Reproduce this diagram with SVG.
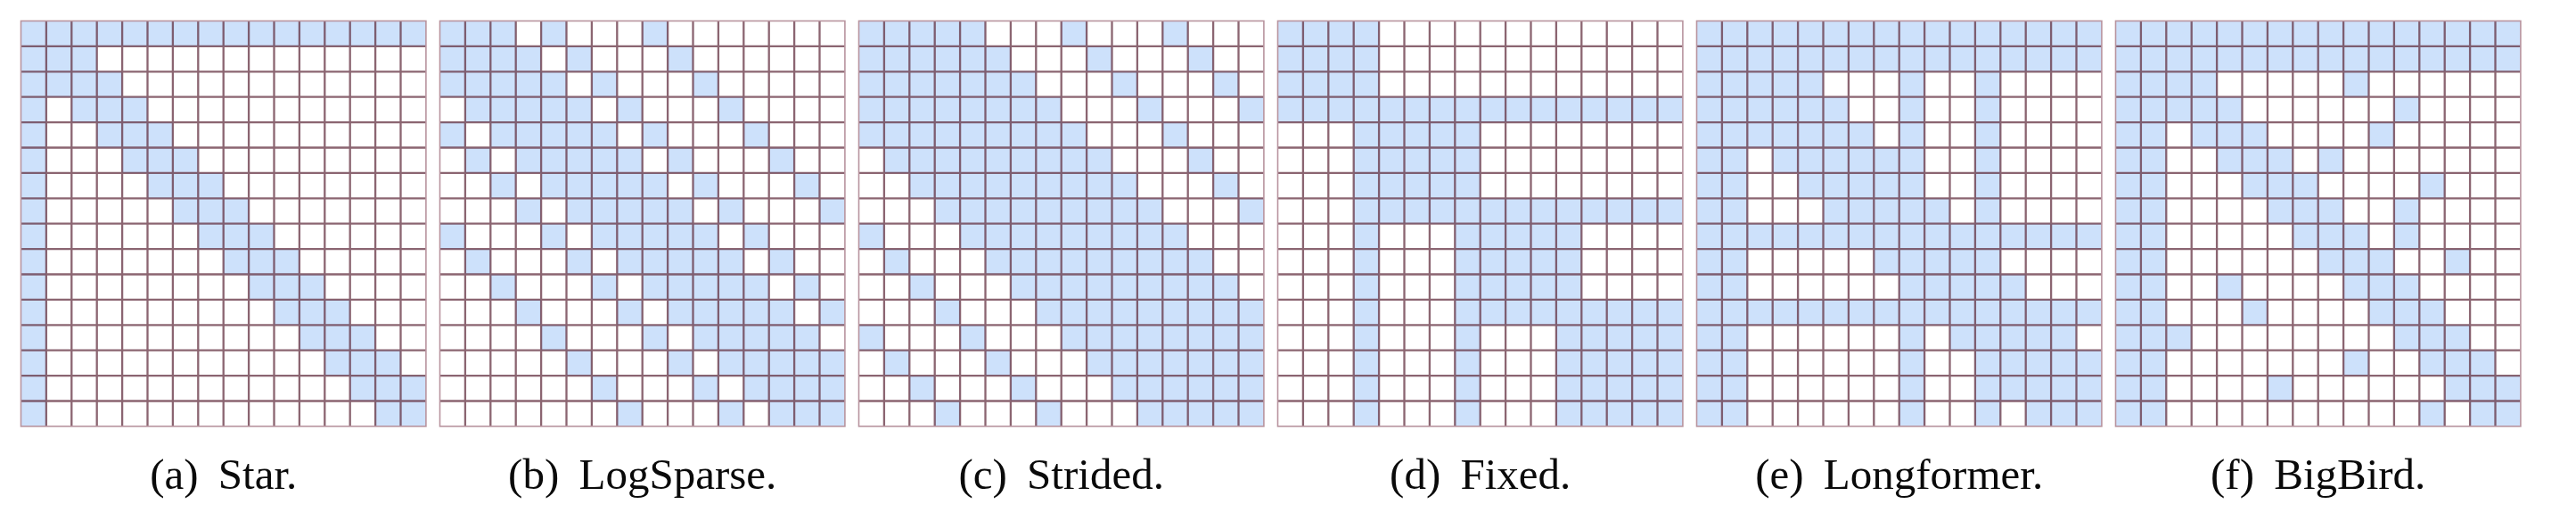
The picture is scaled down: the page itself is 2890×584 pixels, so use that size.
<svg xmlns="http://www.w3.org/2000/svg" xmlns:xlink="http://www.w3.org/1999/xlink" width="2890" height="584" viewBox="0 0 2890 584">
<style>
.f rect{fill:#cde1fb;stroke:none}
.gl{fill:none;stroke:#5e2a3a;stroke-opacity:0.72;stroke-width:2.3}
.gb{fill:none;stroke:#b8949f;stroke-width:1.6}
.lab{font-family:"Liberation Serif","Times New Roman",serif;font-size:49px;fill:#0a0a0a;text-anchor:middle}
</style>
<defs>
<g id="grid">
<path class="gl" d="M28.4 0V454.4M56.8 0V454.4M85.2 0V454.4M113.6 0V454.4M142 0V454.4M170.4 0V454.4M198.8 0V454.4M227.2 0V454.4M255.6 0V454.4M284 0V454.4M312.4 0V454.4M340.8 0V454.4M369.2 0V454.4M397.6 0V454.4M426 0V454.4M0 28.4H454.4M0 56.8H454.4M0 85.2H454.4M0 113.6H454.4M0 142H454.4M0 170.4H454.4M0 198.8H454.4M0 227.2H454.4M0 255.6H454.4M0 284H454.4M0 312.4H454.4M0 340.8H454.4M0 369.2H454.4M0 397.6H454.4M0 426H454.4"/>
<rect class="gb" x="0" y="0" width="454.4" height="454.4"/>
</g>
</defs>
<rect width="2890" height="584" fill="#fff"/>

<g id="panel-a">
<g class="f" transform="translate(23.5 23.5) scale(28.4)">
<rect x="0" y="0" width="16" height="1"/><rect x="0" y="0" width="1" height="16"/>
<rect x="0" y="1" width="3" height="1"/><rect x="1" y="2" width="3" height="1"/><rect x="2" y="3" width="3" height="1"/><rect x="3" y="4" width="3" height="1"/><rect x="4" y="5" width="3" height="1"/><rect x="5" y="6" width="3" height="1"/><rect x="6" y="7" width="3" height="1"/><rect x="7" y="8" width="3" height="1"/><rect x="8" y="9" width="3" height="1"/><rect x="9" y="10" width="3" height="1"/><rect x="10" y="11" width="3" height="1"/><rect x="11" y="12" width="3" height="1"/><rect x="12" y="13" width="3" height="1"/><rect x="13" y="14" width="3" height="1"/><rect x="14" y="15" width="2" height="1"/>
</g>
<use href="#grid" x="23.5" y="23.5"/>
<text class="lab" x="250.7" y="548">(a) <tspan dx="10">Star.</tspan></text>
</g>

<g id="panel-b">
<g class="f" transform="translate(493.5 23.5) scale(28.4)">
<rect x="0" y="0" width="3" height="1"/><rect x="4" y="0" width="1" height="1"/><rect x="8" y="0" width="1" height="1"/>
<rect x="0" y="1" width="4" height="1"/><rect x="5" y="1" width="1" height="1"/><rect x="9" y="1" width="1" height="1"/>
<rect x="0" y="2" width="5" height="1"/><rect x="6" y="2" width="1" height="1"/><rect x="10" y="2" width="1" height="1"/>
<rect x="1" y="3" width="5" height="1"/><rect x="7" y="3" width="1" height="1"/><rect x="11" y="3" width="1" height="1"/>
<rect x="0" y="4" width="1" height="1"/><rect x="2" y="4" width="5" height="1"/><rect x="8" y="4" width="1" height="1"/><rect x="12" y="4" width="1" height="1"/>
<rect x="1" y="5" width="1" height="1"/><rect x="3" y="5" width="5" height="1"/><rect x="9" y="5" width="1" height="1"/><rect x="13" y="5" width="1" height="1"/>
<rect x="2" y="6" width="1" height="1"/><rect x="4" y="6" width="5" height="1"/><rect x="10" y="6" width="1" height="1"/><rect x="14" y="6" width="1" height="1"/>
<rect x="3" y="7" width="1" height="1"/><rect x="5" y="7" width="5" height="1"/><rect x="11" y="7" width="1" height="1"/><rect x="15" y="7" width="1" height="1"/>
<rect x="0" y="8" width="1" height="1"/><rect x="4" y="8" width="1" height="1"/><rect x="6" y="8" width="5" height="1"/><rect x="12" y="8" width="1" height="1"/>
<rect x="1" y="9" width="1" height="1"/><rect x="5" y="9" width="1" height="1"/><rect x="7" y="9" width="5" height="1"/><rect x="13" y="9" width="1" height="1"/>
<rect x="2" y="10" width="1" height="1"/><rect x="6" y="10" width="1" height="1"/><rect x="8" y="10" width="5" height="1"/><rect x="14" y="10" width="1" height="1"/>
<rect x="3" y="11" width="1" height="1"/><rect x="7" y="11" width="1" height="1"/><rect x="9" y="11" width="5" height="1"/><rect x="15" y="11" width="1" height="1"/>
<rect x="4" y="12" width="1" height="1"/><rect x="8" y="12" width="1" height="1"/><rect x="10" y="12" width="5" height="1"/>
<rect x="5" y="13" width="1" height="1"/><rect x="9" y="13" width="1" height="1"/><rect x="11" y="13" width="5" height="1"/>
<rect x="6" y="14" width="1" height="1"/><rect x="10" y="14" width="1" height="1"/><rect x="12" y="14" width="4" height="1"/>
<rect x="7" y="15" width="1" height="1"/><rect x="11" y="15" width="1" height="1"/><rect x="13" y="15" width="3" height="1"/>
</g>
<use href="#grid" x="493.5" y="23.5"/>
<text class="lab" x="720.7" y="548">(b) <tspan dx="10">LogSparse.</tspan></text>
</g>

<g id="panel-c">
<g class="f" transform="translate(963.5 23.5) scale(28.4)">
<rect x="0" y="0" width="5" height="1"/><rect x="8" y="0" width="1" height="1"/><rect x="12" y="0" width="1" height="1"/>
<rect x="0" y="1" width="6" height="1"/><rect x="9" y="1" width="1" height="1"/><rect x="13" y="1" width="1" height="1"/>
<rect x="0" y="2" width="7" height="1"/><rect x="10" y="2" width="1" height="1"/><rect x="14" y="2" width="1" height="1"/>
<rect x="0" y="3" width="8" height="1"/><rect x="11" y="3" width="1" height="1"/><rect x="15" y="3" width="1" height="1"/>
<rect x="0" y="4" width="9" height="1"/><rect x="12" y="4" width="1" height="1"/>
<rect x="1" y="5" width="9" height="1"/><rect x="13" y="5" width="1" height="1"/>
<rect x="2" y="6" width="9" height="1"/><rect x="14" y="6" width="1" height="1"/>
<rect x="3" y="7" width="9" height="1"/><rect x="15" y="7" width="1" height="1"/>
<rect x="0" y="8" width="1" height="1"/><rect x="4" y="8" width="9" height="1"/>
<rect x="1" y="9" width="1" height="1"/><rect x="5" y="9" width="9" height="1"/>
<rect x="2" y="10" width="1" height="1"/><rect x="6" y="10" width="9" height="1"/>
<rect x="3" y="11" width="1" height="1"/><rect x="7" y="11" width="9" height="1"/>
<rect x="0" y="12" width="1" height="1"/><rect x="4" y="12" width="1" height="1"/><rect x="8" y="12" width="8" height="1"/>
<rect x="1" y="13" width="1" height="1"/><rect x="5" y="13" width="1" height="1"/><rect x="9" y="13" width="7" height="1"/>
<rect x="2" y="14" width="1" height="1"/><rect x="6" y="14" width="1" height="1"/><rect x="10" y="14" width="6" height="1"/>
<rect x="3" y="15" width="1" height="1"/><rect x="7" y="15" width="1" height="1"/><rect x="11" y="15" width="5" height="1"/>
</g>
<use href="#grid" x="963.5" y="23.5"/>
<text class="lab" x="1190.7" y="548">(c) <tspan dx="10">Strided.</tspan></text>
</g>

<g id="panel-d">
<g class="f" transform="translate(1433.5 23.5) scale(28.4)">
<rect x="0" y="0" width="4" height="4"/><rect x="0" y="3" width="16" height="1"/>
<rect x="4" y="4" width="4" height="4"/><rect x="3" y="7" width="13" height="1"/><rect x="3" y="4" width="1" height="12"/>
<rect x="8" y="8" width="4" height="4"/><rect x="7" y="11" width="9" height="1"/><rect x="7" y="8" width="1" height="8"/>
<rect x="12" y="12" width="4" height="4"/><rect x="11" y="12" width="1" height="4"/>
</g>
<use href="#grid" x="1433.5" y="23.5"/>
<text class="lab" x="1660.7" y="548">(d) <tspan dx="10">Fixed.</tspan></text>
</g>

<g id="panel-e">
<g class="f" transform="translate(1903.5 23.5) scale(28.4)">
<rect x="0" y="0" width="16" height="2"/><rect x="0" y="8" width="16" height="1"/><rect x="0" y="11" width="16" height="1"/>
<rect x="0" y="0" width="2" height="16"/><rect x="8" y="0" width="1" height="16"/><rect x="11" y="0" width="1" height="16"/>
<rect x="0" y="2" width="5" height="1"/><rect x="1" y="3" width="5" height="1"/><rect x="2" y="4" width="5" height="1"/><rect x="3" y="5" width="5" height="1"/><rect x="4" y="6" width="5" height="1"/><rect x="5" y="7" width="5" height="1"/><rect x="7" y="9" width="5" height="1"/><rect x="8" y="10" width="5" height="1"/><rect x="10" y="12" width="5" height="1"/><rect x="11" y="13" width="5" height="1"/><rect x="12" y="14" width="4" height="1"/><rect x="13" y="15" width="3" height="1"/>
</g>
<use href="#grid" x="1903.5" y="23.5"/>
<text class="lab" x="2130.7" y="548">(e) <tspan dx="10">Longformer.</tspan></text>
</g>

<g id="panel-f">
<g class="f" transform="translate(2373.5 23.5) scale(28.4)">
<rect x="0" y="0" width="16" height="2"/><rect x="0" y="0" width="2" height="16"/>
<rect x="1" y="2" width="3" height="1"/><rect x="9" y="2" width="1" height="1"/>
<rect x="2" y="3" width="3" height="1"/><rect x="11" y="3" width="1" height="1"/>
<rect x="3" y="4" width="3" height="1"/><rect x="10" y="4" width="1" height="1"/>
<rect x="4" y="5" width="3" height="1"/><rect x="8" y="5" width="1" height="1"/>
<rect x="5" y="6" width="3" height="1"/><rect x="12" y="6" width="1" height="1"/>
<rect x="6" y="7" width="3" height="1"/><rect x="11" y="7" width="1" height="1"/>
<rect x="7" y="8" width="3" height="1"/><rect x="11" y="8" width="1" height="1"/>
<rect x="8" y="9" width="3" height="1"/><rect x="13" y="9" width="1" height="1"/>
<rect x="9" y="10" width="3" height="1"/><rect x="4" y="10" width="1" height="1"/>
<rect x="10" y="11" width="3" height="1"/><rect x="5" y="11" width="1" height="1"/>
<rect x="11" y="12" width="3" height="1"/><rect x="2" y="12" width="1" height="1"/>
<rect x="12" y="13" width="3" height="1"/><rect x="9" y="13" width="1" height="1"/>
<rect x="13" y="14" width="3" height="1"/><rect x="6" y="14" width="1" height="1"/>
<rect x="14" y="15" width="2" height="1"/><rect x="12" y="15" width="1" height="1"/>
</g>
<use href="#grid" x="2373.5" y="23.5"/>
<text class="lab" x="2600.7" y="548">(f) <tspan dx="10">BigBird.</tspan></text>
</g>
</svg>
